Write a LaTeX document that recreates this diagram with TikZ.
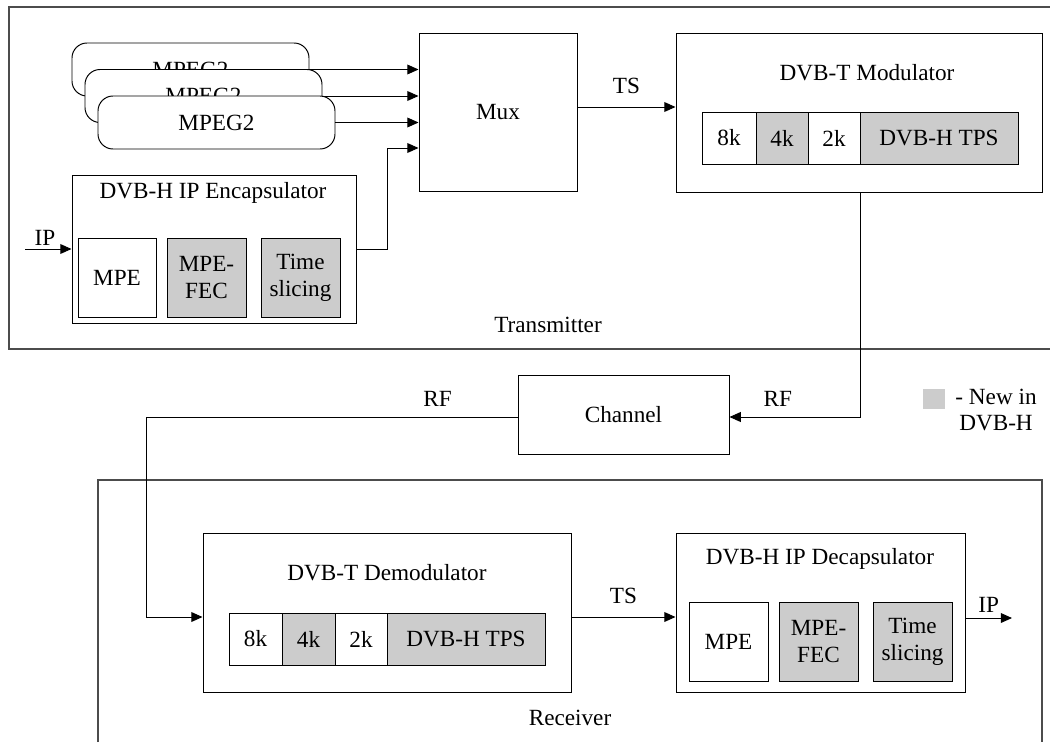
\documentclass[tikz,border=0pt]{standalone}
\usepackage{fontspec}
\setmainfont{Liberation Serif}
\usetikzlibrary{arrows.meta}

\tikzset{
  box/.style={draw, line width=0.7pt, inner sep=0pt},
  newbox/.style={box, fill=black!20},
  sz/.style n args={2}{minimum width=#1*0.025cm, minimum height=#2*0.025cm},
  frame/.style={draw=black!70, line width=1.4pt},
  wire/.style={line width=0.7pt},
  arr/.style={wire, -{Triangle[length=8pt,width=7pt]}},
  lab/.style={above, inner sep=2pt},
}

\begin{document}
\begin{tikzpicture}[x=0.025cm, y=-0.025cm, font=\fontsize{16.5}{19}\selectfont]
      \useasboundingbox (0,0) rectangle (1050,742);

      % transmitter and receiver frames
      \draw[frame] (1050,7) -- (9,7) -- (9,349) -- (1050,349);
      \draw[frame] (98,742) -- (98,480) -- (1042,480) -- (1042,742);
      \node (txlabel) at (548,325) {Transmitter};
      \node (rxlabel) at (570,718) {Receiver};

      % sources
      \node[box, sz={237}{53}, rounded corners=0.375cm, fill=white] (mpegA) at (190.5,69.5) {MPEG2};
      \node[box, sz={237}{53}, rounded corners=0.375cm, fill=white] (mpegB) at (203.5,96) {MPEG2};
      \node[box, sz={237}{53}, rounded corners=0.375cm, fill=white] (mpegC) at (216.5,122.5) {MPEG2};
      \node[box, sz={158}{158}] (mux) at (498,112) {Mux};

      \node[box, sz={284}{148}] (encap) at (214,249) {};
      \node (encaptitle) at (213,193) {DVB-H IP Encapsulator};
      \node[box, sz={78}{79}] (empe) at (117,277.5) {MPE};
      \node[newbox, sz={79}{79}, align=center] (efec) at (206.5,277.5) {MPE-\\FEC};
      \node[newbox, sz={79}{79}, align=center] (eslice) at (300.5,277.5) {Time\\slicing};

      \node[box, sz={366}{159}] (mod) at (859,112.5) {};
      \node (modtitle) at (867,73) {DVB-T Modulator};
      \node[box, sz={54}{52}] (m8k) at (729,138) {8k};
      \node[newbox, sz={52}{52}] (m4k) at (782,138) {4k};
      \node[box, sz={52}{52}] (m2k) at (834,138) {2k};
      \node[newbox, sz={158}{52}] (mtps) at (939,138) {DVB-H TPS};

      \node[box, sz={211}{79}] (chan) at (623.5,414.5) {Channel};

      \node[box, sz={368}{159}] (demod) at (387,612.5) {};
      \node (demodtitle) at (387,573) {DVB-T Demodulator};
      \node[box, sz={53}{52}] (d8k) at (255.5,639) {8k};
      \node[newbox, sz={53}{52}] (d4k) at (308.5,639) {4k};
      \node[box, sz={52}{52}] (d2k) at (361,639) {2k};
      \node[newbox, sz={158}{52}] (dtps) at (466,639) {DVB-H TPS};

      \node[box, sz={289}{159}] (decap) at (820.5,612.5) {};
      \node (decaptitle) at (820,559) {DVB-H IP Decapsulator};
      \node[box, sz={79}{79}] (dmpe) at (728.5,641.5) {MPE};
      \node[newbox, sz={79}{79}, align=center] (dfec) at (818.5,641.5) {MPE-\\FEC};
      \node[newbox, sz={79}{79}, align=center] (dslice) at (912.5,641.5) {Time\\slicing};

      % legend
      \node[fill=black!20, inner sep=0pt, sz={22}{20}] (key) at (934,399) {};
      \node[align=center] (keytext) at (996,410) {- New in\\DVB-H};

      % connections
      \coordinate (ipin) at (25,249);
      \coordinate (encapturn) at (387,148);
      \coordinate (rfturn) at (860,417);
      \coordinate (rfdown) at (146,417);
      \coordinate (rfin) at (146,617);
      \coordinate (ipout) at (1012,618);

      \draw[arr] (mpegA.east) -- (mpegA.east -| mux.west);
      \draw[arr] (mpegB.east) -- (mpegB.east -| mux.west);
      \draw[arr] (mpegC.east) -- (mpegC.east -| mux.west);
      \draw[arr] (ipin) -- node[lab, above=0pt, pos=0.43] {IP} (encap.west);
      \draw[arr] (encap.east) -| (encapturn) -- (encapturn -| mux.west);
      \draw[arr] (mux.east |- 0,107) -- node[lab, above=7pt] {TS} (mod.west |- 0,107);
      \draw[arr] (rfturn |- mod.south) -- (rfturn) -- node[lab, above=5pt, pos=0.63] {RF} (chan.east |- rfturn);
      \draw[arr] (chan.west |- rfdown) -- node[lab, above=5pt, pos=0.215] {RF} (rfdown) -- (rfin) -- (demod.west |- rfin);
      \draw[arr] (demod.east |- 0,617) -- node[lab, above=7pt] {TS} (decap.west |- 0,617);
      \draw[arr] (decap.east |- ipout) -- node[lab, above=1.5pt] {IP} (ipout);
    \end{tikzpicture}
\end{document}
